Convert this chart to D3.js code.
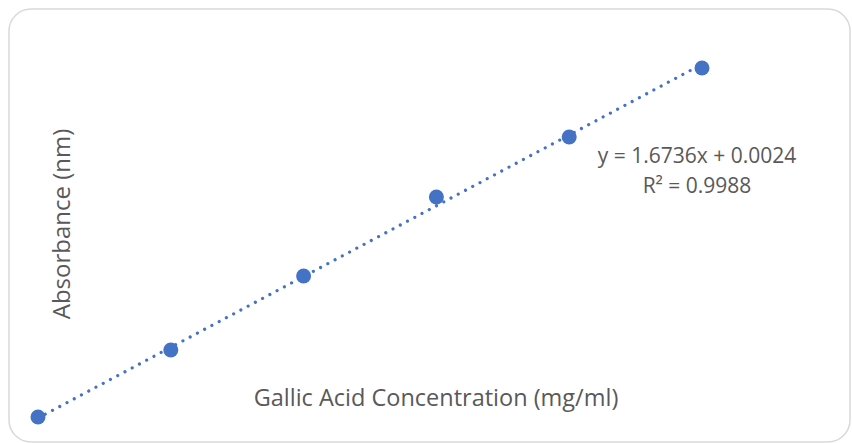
<!DOCTYPE html>
<html><head><meta charset="utf-8">
<script src="https://cdn.jsdelivr.net/npm/d3@7"></script>
<style>html,body{margin:0;padding:0;background:#fff;}svg{display:block;}</style>
</head><body>
<svg id="chart" width="852" height="443"></svg>
<script>
// Data
const concentration = [0, 0.04, 0.08, 0.12, 0.16, 0.20];
const absorbance = [0.0034, 0.0668, 0.1368, 0.2115, 0.2683, 0.3336];
const slope = 1.6736;
const intercept = 0.0024;
const equationLabels = ["y = 1.6736x + 0.0024", "R\u00B2 = 0.9988"];
const xTitle = "Gallic Acid Concentration (mg/ml)";
const yTitle = "Absorbance (nm)";

const svg = d3.select("#chart");
const blue = "#4472C4", textCol = "#595959";
const font = "'Open Sans', 'Segoe UI', sans-serif";

// chart border
svg.append("rect").attr("x", 9).attr("y", 9).attr("width", 841).attr("height", 433)
  .attr("rx", 22).attr("ry", 22).attr("fill", "#fff")
  .attr("stroke", "#d9d9d9").attr("stroke-width", 1.5);

const x = d3.scaleLinear().domain([0, 0.2]).range([38, 702]);
const y = d3.scaleLinear().domain([0, 0.35]).range([420.6, 50.65]);

// trendline
const ext = d3.extent(concentration);
const trend = ext.map(c => [c, slope * c + intercept]);
svg.append("path")
  .attr("d", d3.line().x(d => x(d[0])).y(d => y(d[1]))(trend))
  .attr("fill", "none").attr("stroke", blue).attr("stroke-width", 3.2)
  .attr("stroke-linecap", "round").attr("stroke-dasharray", "0.01 8.2");

// points
svg.append("g").selectAll("circle").data(concentration).join("circle")
  .attr("cx", d => x(d)).attr("cy", (d, i) => y(absorbance[i]))
  .attr("r", 7.5).attr("fill", blue);

// equation
svg.append("g").selectAll("text").data(equationLabels).join("text")
  .attr("x", 697).attr("y", (d, i) => 163 + i * 30)
  .attr("text-anchor", "middle").attr("fill", textCol)
  .style("font-family", font).style("font-size", "21px").text(d => d);

// axis titles
svg.append("text").attr("x", 436).attr("y", 406).attr("text-anchor", "middle")
  .attr("fill", textCol).style("font-family", font).style("font-size", "23.5px").text(xTitle);
svg.append("text").attr("transform", "translate(70,224) rotate(-90)")
  .attr("text-anchor", "middle").attr("fill", textCol)
  .style("font-family", font).style("font-size", "24px").text(yTitle);
</script>
</body></html>
